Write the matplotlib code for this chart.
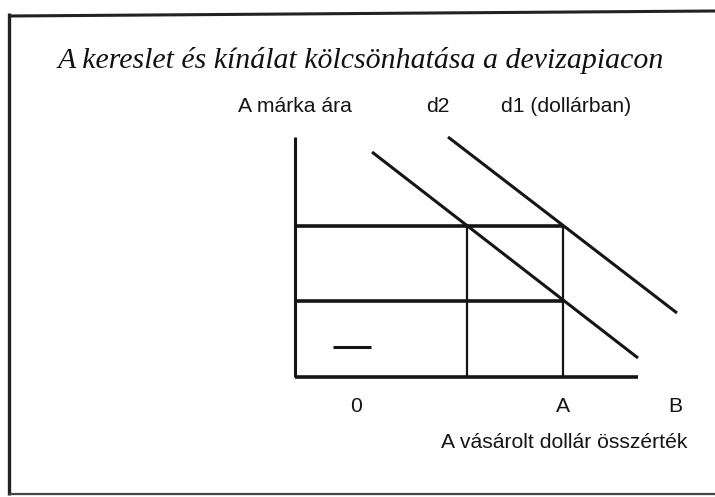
import matplotlib
matplotlib.use("Agg")
import matplotlib.pyplot as plt

W, H = 715, 497

TITLE = "A kereslet és kínálat kölcsönhatása a devizapiacon"
Y_LABEL = "A márka ára"
X_LABEL = "A vásárolt dollár összérték"
CURVE_LABELS = ["d2", "d1 (dollárban)"]

# diagram units: price on y, dollar amount on x
y_axis_top = 24.0
x_axis_end = 34.3
prices = [15.1, 7.6]
quantities = [17.2, 26.8]
d2_x = [7.7, 34.3]
d2_y = [22.5, 1.9]
d1_x = [15.3, 38.2]
d1_y = [24.0, 6.4]
dash_x = [3.8, 7.6]
dash_y = [3.0, 3.0]
tick_names = ["0", "A", "B"]
tick_pos = [6.1, 26.8, 38.0]

SANS = "Liberation Sans"
SERIF = "Liberation Serif"
FS = 15.2

fig = plt.figure(figsize=(W / 100, H / 100), dpi=100)
fig.patch.set_facecolor("white")

# frame of the scanned slide (pixel coords)
bg = fig.add_axes([0, 0, 1, 1])
bg.set_xlim(0, W)
bg.set_ylim(H, 0)
bg.axis("off")
bg.plot([9, 9], [13, 495], color="#222222", lw=2.4, solid_capstyle="butt")
bg.plot([9, W], [16, 11], color="#222222", lw=2.2, solid_capstyle="butt")
bg.plot([9, W], [494, 494], color="#444444", lw=1.6, solid_capstyle="butt")
bg.text(361, 60, TITLE, family=SERIF, style="italic", fontsize=21.5,
        ha="center", va="center", color="#111111")

# diagram axes: 10 px per unit, origin at pixel (295, 377)
ax = fig.add_axes([0, 0, 1, 1])
ax.set_xlim(-29.5, (W - 295) / 10)
ax.set_ylim((377 - H) / 10, 37.7)
ax.axis("off")

ink = "#151515"
ax.plot([0, 0], [0, y_axis_top], color=ink, lw=2.2, solid_capstyle="butt")
ax.plot([0, x_axis_end], [0, 0], color=ink, lw=2.6, solid_capstyle="butt")
for p in prices:
    ax.plot([0, quantities[-1]], [p, p], color=ink, lw=2.6, solid_capstyle="butt")
for q in quantities:
    ax.plot([q, q], [0, prices[0]], color=ink, lw=1.6, solid_capstyle="butt")
ax.plot(d2_x, d2_y, color=ink, lw=2.2, solid_capstyle="butt")
ax.plot(d1_x, d1_y, color=ink, lw=2.2, solid_capstyle="butt")
ax.plot(dash_x, dash_y, color=ink, lw=2.2, solid_capstyle="butt")

for name, x in zip(tick_names, tick_pos):
    ax.text(x, -2.9, name, family=SANS, fontsize=FS, ha="center", va="center", color=ink)
ax.text(26.9, -6.5, X_LABEL, family=SANS, fontsize=FS, ha="center", va="center", color=ink)
ax.text(0.0, 27.1, Y_LABEL, family=SANS, fontsize=FS, ha="center", va="center", color=ink)
ax.text(14.3, 27.1, CURVE_LABELS[0], family=SANS, fontsize=FS, ha="center", va="center", color=ink)
ax.text(27.1, 27.1, CURVE_LABELS[1], family=SANS, fontsize=FS, ha="center", va="center", color=ink)

fig.savefig("out.png", dpi=100)
